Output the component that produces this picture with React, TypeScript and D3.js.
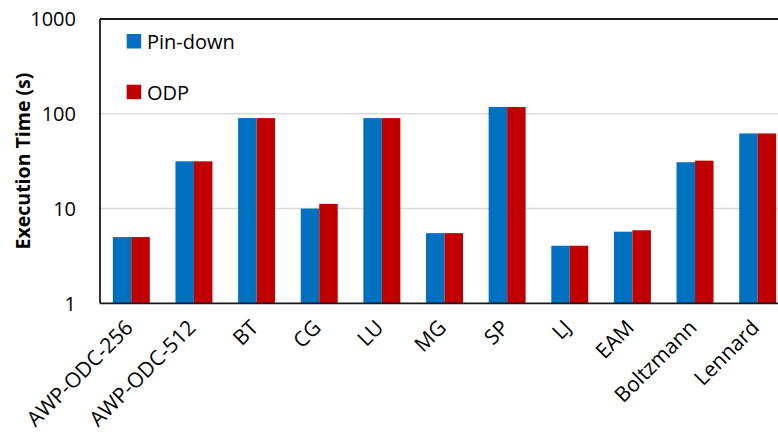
import { useEffect, useRef } from 'react';
import * as d3 from 'd3';

// Data
const categories = ['AWP-ODC-256', 'AWP-ODC-512', 'BT', 'CG', 'LU', 'MG', 'SP', 'LJ', 'EAM', 'Boltzmann', 'Lennard'];
const pinDown = [5.0, 31.5, 90, 10, 90, 5.5, 118, 4.05, 5.7, 30.8, 62];
const odp = [5.0, 31.5, 90, 11.2, 90, 5.5, 118, 4.05, 5.9, 32, 62];
const seriesNames = ['Pin-down', 'ODP'];
const yTicks = [1, 10, 100, 1000];

const colors = ['#0070C0', '#C00000'];
const width = 778;
const height = 436;
const margin = { left: 100, top: 19, bottom: 303.3, right: 789 };
const font = '"Open Sans", sans-serif';

function drawChart(node: SVGSVGElement) {
  const svg = d3.select(node);
  svg.selectAll('*').remove();

  const x = d3.scaleBand()
    .domain(categories)
    .range([margin.left, margin.right])
    .paddingInner(0)
    .paddingOuter(0);

  // two bars side by side, ~18.5px each, centred in the band
  const inner = d3.scaleBand()
    .domain(seriesNames)
    .range([0, x.bandwidth()])
    .paddingInner(0)
    .paddingOuter(0.694);

  const y = d3.scaleLog()
    .domain([1, 1000])
    .range([margin.bottom, margin.top]);

  // gridlines
  svg.append('g')
    .selectAll('line')
    .data(yTicks.filter(t => t !== 1 && t !== 1000))
    .join('line')
    .attr('x1', margin.left)
    .attr('x2', width)
    .attr('y1', d => y(d))
    .attr('y2', d => y(d))
    .attr('stroke', '#d9d9d9')
    .attr('stroke-width', 1.5);

  // bars
  const series = [pinDown, odp];
  series.forEach((values, s) => {
    svg.append('g')
      .selectAll('rect')
      .data(values)
      .join('rect')
      .attr('x', (d, i) => (x(categories[i]) as number) + (inner(seriesNames[s]) as number))
      .attr('y', d => y(d))
      .attr('width', inner.bandwidth())
      .attr('height', d => margin.bottom - y(d))
      .attr('fill', colors[s]);
  });

  // frame: top, left, bottom
  svg.append('line')
    .attr('x1', margin.left).attr('x2', width)
    .attr('y1', margin.top).attr('y2', margin.top)
    .attr('stroke', '#1a1a1a').attr('stroke-width', 1.8);
  svg.append('line')
    .attr('x1', margin.left).attr('x2', margin.left)
    .attr('y1', margin.top).attr('y2', margin.bottom)
    .attr('stroke', '#1a1a1a').attr('stroke-width', 1.8);
  svg.append('line')
    .attr('x1', margin.left).attr('x2', width)
    .attr('y1', margin.bottom).attr('y2', margin.bottom)
    .attr('stroke', '#1a1a1a').attr('stroke-width', 1.8);

  // y tick labels
  svg.append('g')
    .selectAll('text')
    .data(yTicks)
    .join('text')
    .attr('x', 76)
    .attr('y', d => y(d))
    .attr('dy', '0.36em')
    .attr('text-anchor', 'end')
    .attr('font-family', font)
    .attr('font-size', 20)
    .attr('fill', '#000')
    .text(d => d);

  // y title
  svg.append('text')
    .attr('transform', 'translate(30,161) rotate(-90)')
    .attr('text-anchor', 'middle')
    .attr('font-family', font)
    .attr('font-size', 19.5)
    .attr('font-weight', 'bold')
    .attr('fill', '#000')
    .text('Execution Time (s)');

  // x labels
  svg.append('g')
    .selectAll('text')
    .data(categories)
    .join('text')
    .attr('transform', d => `translate(${(x(d) as number) + x.bandwidth() / 2 + 3},329) rotate(-45)`)
    .attr('text-anchor', 'end')
    .attr('font-family', font)
    .attr('font-size', 21)
    .attr('fill', '#000')
    .text(d => d);

  // legend
  const legend = svg.append('g');
  seriesNames.forEach((name, i) => {
    const ly = 34 + i * 50.7;
    legend.append('rect')
      .attr('x', 126.7)
      .attr('y', ly)
      .attr('width', 14.5)
      .attr('height', 14.5)
      .attr('fill', colors[i]);
    legend.append('text')
      .attr('x', 147)
      .attr('y', ly + 15)
      .attr('font-family', font)
      .attr('font-size', 20)
      .attr('fill', '#000')
      .text(name);
  });
}

export default function App() {
  const ref = useRef<SVGSVGElement>(null);

  useEffect(() => {
    if (ref.current) drawChart(ref.current);
  }, []);

  return (
    <div style={{ position: 'absolute', left: 0, top: 0 }}>
      <svg ref={ref} width={width} height={height} style={{ display: 'block', background: '#fff' }} />
    </div>
  );
}
